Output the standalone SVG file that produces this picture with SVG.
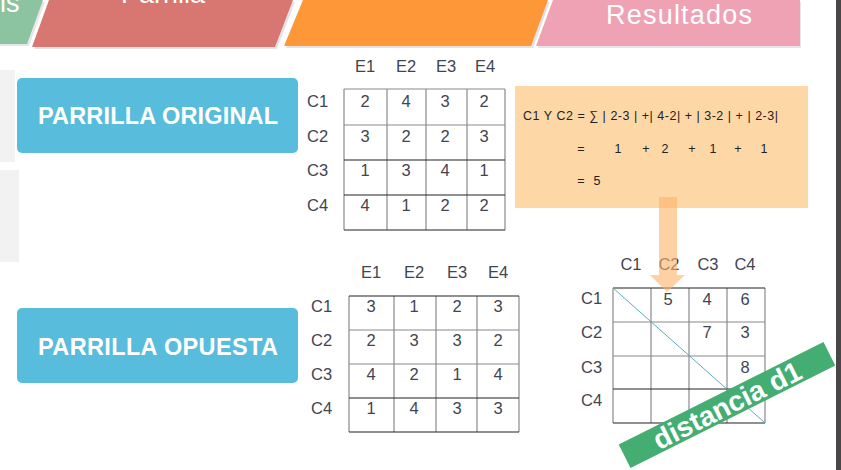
<svg xmlns="http://www.w3.org/2000/svg" width="841" height="470" viewBox="0 0 841 470">
<style>
.t{font-family:"Liberation Sans",Arial,sans-serif;font-size:16.5px;fill:#3f4552}
.n{text-anchor:middle}
.btn{fill:#58bcdc}
.btxt{font-family:"Liberation Sans",Arial,sans-serif;font-weight:bold;font-size:23.5px;fill:#fff;text-anchor:middle}
.gl{stroke:#8a8a8a;stroke-width:1.2;fill:none}
.bl{stroke:#222;stroke-width:1.2;fill:none}
.f{font-family:"Liberation Sans",Arial,sans-serif;font-size:12.5px;fill:#222}
.hd{font-family:"Liberation Sans",Arial,sans-serif;font-size:27px;fill:#fff}
</style>
<rect width="841" height="470" fill="#fff"/>
<!-- top header tabs -->
<g id="tabs">
<polygon points="0,2 45,2 29,46 0,46" fill="#e6e6e6"/>
<polygon points="0,0 43,0 27,44 0,44" fill="#8cc3a0"/>
<text x="0" y="12" class="hd">ls</text>
<polygon points="51,2 295,2 277,49 34,49" fill="#e3e3e3"/>
<polygon points="49,0 293,0 275,47 32,47" fill="#d87672"/>
<text x="163" y="3" class="hd" text-anchor="middle">Parrilla</text>
<polygon points="305,2 550,2 533,48 286,48" fill="#e3e3e3"/>
<polygon points="303,0 548,0 531,46 284,46" fill="#fe9737"/>
<polygon points="555,2 801,2 801,48 538,48" fill="#e6e6e6"/>
<polygon points="553,0 800,0 800,46 536,46" fill="#efa2b4"/>
<text x="679" y="24" class="hd" text-anchor="middle" textLength="146">Resultados</text>
</g>
<!-- left gray panels -->
<rect x="0" y="70" width="15" height="92" fill="#f2f2f2"/>
<rect x="0" y="170" width="19" height="92" fill="#f2f2f2"/>
<!-- right dark bar -->
<rect x="836" y="0" width="5" height="470" fill="#4a4547"/>
<g id="btn-original">
<rect x="17" y="78" width="281" height="75" rx="5" class="btn"/>
<text x="158" y="124" class="btxt" textLength="240">PARRILLA ORIGINAL</text>
</g>
<g id="btn-opuesta">
<rect x="17" y="308" width="281" height="75" rx="5" class="btn"/>
<text x="158" y="355" class="btxt" textLength="240">PARRILLA OPUESTA</text>
</g>
<!-- table original -->
<g id="tabla-original">
<path class="gl" d="M344,89H505M344,125H505M344,89V230M387,89V230M426,89V230M467,89V230M505,89V230"/>
<path class="bl" d="M344,160H505M344,195H505M344,230H505"/>
<g class="t n">
<text x="365" y="72">E1</text><text x="406" y="72">E2</text><text x="446" y="72">E3</text><text x="485" y="72">E4</text>
<text x="365" y="107">2</text><text x="406" y="107">4</text><text x="445" y="107">3</text><text x="484" y="107">2</text>
<text x="365" y="142">3</text><text x="406" y="142">2</text><text x="445" y="142">2</text><text x="484" y="142">3</text>
<text x="365" y="176">1</text><text x="406" y="176">3</text><text x="445" y="176">4</text><text x="484" y="176">1</text>
<text x="365" y="211">4</text><text x="406" y="211">1</text><text x="445" y="211">2</text><text x="484" y="211">2</text>
</g>
<g class="t">
<text x="307" y="107">C1</text><text x="307" y="142">C2</text><text x="307" y="176">C3</text><text x="307" y="211">C4</text>
</g>
</g>
<!-- table opuesta -->
<g id="tabla-opuesta">
<path class="gl" d="M349,330H519M349,364H519M349,296V432M394,296V432M436,296V432M477,296V432M519,296V432"/>
<path class="bl" d="M349,296H519M349,398H519M349,432H519"/>
<g class="t n">
<text x="371" y="278">E1</text><text x="414" y="278">E2</text><text x="457" y="278">E3</text><text x="498" y="278">E4</text>
<text x="371" y="312">3</text><text x="414" y="312">1</text><text x="457" y="312">2</text><text x="498" y="312">3</text>
<text x="371" y="346">2</text><text x="414" y="346">3</text><text x="457" y="346">3</text><text x="498" y="346">2</text>
<text x="371" y="380">4</text><text x="414" y="380">2</text><text x="457" y="380">1</text><text x="498" y="380">4</text>
<text x="371" y="414">1</text><text x="414" y="414">4</text><text x="457" y="414">3</text><text x="498" y="414">3</text>
</g>
<g class="t">
<text x="311" y="312">C1</text><text x="311" y="346">C2</text><text x="311" y="380">C3</text><text x="311" y="414">C4</text>
</g>
</g>
<!-- formula box -->
<g id="formula">
<rect x="515" y="86" width="293" height="122" fill="#fed7a6"/>
<text x="523" y="120" class="f" textLength="255">C1 Y C2 = ∑ | 2-3 | +| 4-2| + | 3-2 | + | 2-3|</text>
<g class="f n">
<text x="581" y="153">=</text><text x="618" y="153">1</text><text x="646" y="153">+</text><text x="665" y="153">2</text><text x="692" y="153">+</text><text x="713" y="153">1</text><text x="738" y="153">+</text><text x="764" y="153">1</text>
<text x="581" y="185">=</text><text x="597" y="185">5</text>
</g>
</g>
<!-- distance matrix -->
<g id="matriz-distancias">
<path class="gl" d="M613,322H765M613,356H765M613,288V423M651,288V423M689,288V423M727,288V423M765,288V423"/>
<path class="bl" d="M613,288H765M613,389H765M613,423H765"/>
<line x1="613" y1="288" x2="765" y2="423" stroke="#4aa6b8" stroke-width="0.9"/>
<g class="t n">
<text x="631" y="270">C1</text><text x="669" y="270">C2</text><text x="708" y="270">C3</text><text x="745" y="270">C4</text>
<text x="668" y="305">5</text><text x="707" y="305">4</text><text x="745" y="305">6</text>
<text x="707" y="338">7</text><text x="745" y="338">3</text>
<text x="745" y="373">8</text>
</g>
<g class="t">
<text x="581" y="304">C1</text><text x="581" y="338">C2</text><text x="581" y="373">C3</text><text x="581" y="406">C4</text>
</g>
</g>
<!-- connector arrow -->
<g id="connectors">
<polygon points="659,197 677,197 677,275 685,275 667,292 650,275 659,275" fill="#fdb269" fill-opacity="0.6"/>
</g>
<!-- banner -->
<g id="banner" transform="translate(727,405) rotate(-26.6)">
<rect x="-114.5" y="-13.2" width="229" height="26.4" fill="#43ad72"/>
<text x="0" y="10" font-family="Liberation Sans,Arial,sans-serif" font-weight="bold" font-size="28" fill="#fff" text-anchor="middle">distancia d1</text>
</g>
</svg>
